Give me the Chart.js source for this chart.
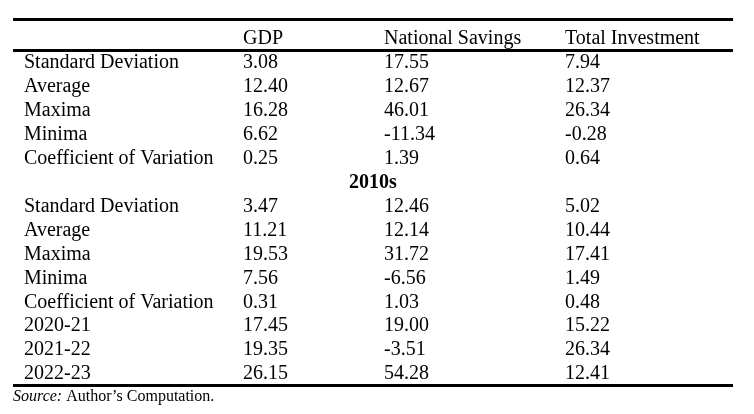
<!DOCTYPE html>
<html>
<head>
<meta charset="utf-8">
<script src="https://cdn.jsdelivr.net/npm/chart.js@4/dist/chart.umd.min.js"></script>
<style>
  html, body { margin: 0; padding: 0; background: #fff; }
  #wrap { width: 754px; height: 414px; position: relative; }
</style>
</head>
<body>
<div id="wrap"><canvas id="tbl"></canvas></div>
<script>
// table contents
const columns = ['GDP', 'National Savings', 'Total Investment'];
const rowLabels = ['Standard Deviation', 'Average', 'Maxima', 'Minima', 'Coefficient of Variation',
  '', 'Standard Deviation', 'Average', 'Maxima', 'Minima', 'Coefficient of Variation',
  '2020-21', '2021-22', '2022-23'];
const gdp = [3.08, 12.40, 16.28, 6.62, 0.25, null, 3.47, 11.21, 19.53, 7.56, 0.31, 17.45, 19.35, 26.15];
const savings = [17.55, 12.67, 46.01, -11.34, 1.39, null, 12.46, 12.14, 31.72, -6.56, 1.03, 19.00, -3.51, 54.28];
const investment = [7.94, 12.37, 26.34, -0.28, 0.64, null, 5.02, 10.44, 17.41, 1.49, 0.48, 15.22, 26.34, 12.41];
const sectionTitle = '2010s';
const sectionRow = 6;
const note = 'Author\u2019s Computation.';

// layout (x in px along the chart width, y in row units)
const colX = [24, 243, 384, 565];
const ruleRows = [-0.78, 0.5, 14.5];
const FONT = '"Liberation Serif", "Times New Roman", serif';
const SIZE = 20;

const ctx = document.getElementById('tbl');

function cells(values, x, fmt) {
  return values.map((v, i) => ({ x: x, y: i + 1, t: v === null ? '' : fmt(v) }));
}

const datasets = [
  { data: cells(rowLabels, colX[0], v => v) },
  { data: cells(gdp, colX[1], v => v.toFixed(2)) },
  { data: cells(savings, colX[2], v => v.toFixed(2)) },
  { data: cells(investment, colX[3], v => v.toFixed(2)) },
  { data: columns.map((c, i) => ({ x: colX[i + 1], y: 0, t: c })) },
  { data: [{ x: 373, y: sectionRow, t: sectionTitle }], bold: true, center: true },
  { data: [{ x: 13, y: 15, t: note }], note: true }
];
datasets.forEach(d => { d.pointRadius = 0; d.showLine = false; });

const tablePlugin = {
  id: 'tablePlugin',
  afterDraw(chart) {
    const c = chart.ctx;
    const xs = chart.scales.x, ys = chart.scales.y;
    c.save();
    // rules
    c.strokeStyle = '#000';
    c.lineWidth = 3;
    ruleRows.forEach(r => {
      const y = Math.round(ys.getPixelForValue(r)) + 0.5;
      c.beginPath();
      c.moveTo(xs.getPixelForValue(13), y);
      c.lineTo(xs.getPixelForValue(733), y);
      c.stroke();
    });
    // cell text
    c.fillStyle = '#000';
    c.textBaseline = 'middle';
    chart.data.datasets.forEach((ds, di) => {
      const meta = chart.getDatasetMeta(di);
      meta.data.forEach((pt, i) => {
        const t = ds.data[i].t;
        if (!t) return;
        if (ds.note) {
          c.textAlign = 'left';
          c.font = 'italic 16px ' + FONT;
          c.fillText('Source:', pt.x, pt.y);
          const w = c.measureText('Source: ').width;
          c.font = '16px ' + FONT;
          c.fillText(t, pt.x + w, pt.y);
          return;
        }
        c.font = (ds.bold ? 'bold ' : '') + SIZE + 'px ' + FONT;
        c.textAlign = ds.center ? 'center' : 'left';
        c.fillText(t, pt.x, pt.y + 1);
      });
    });
    c.restore();
  }
};

new Chart(ctx, {
  type: 'scatter',
  data: { datasets: datasets },
  options: {
    responsive: true,
    maintainAspectRatio: false,
    animation: false,
    layout: { padding: 0 },
    plugins: { legend: { display: false }, tooltip: { enabled: false } },
    scales: {
      x: { type: 'linear', min: 0, max: 754, display: false },
      y: { type: 'linear', min: -1.588, max: 15.71, reverse: true, display: false }
    }
  },
  plugins: [tablePlugin]
});
</script>
</body>
</html>
